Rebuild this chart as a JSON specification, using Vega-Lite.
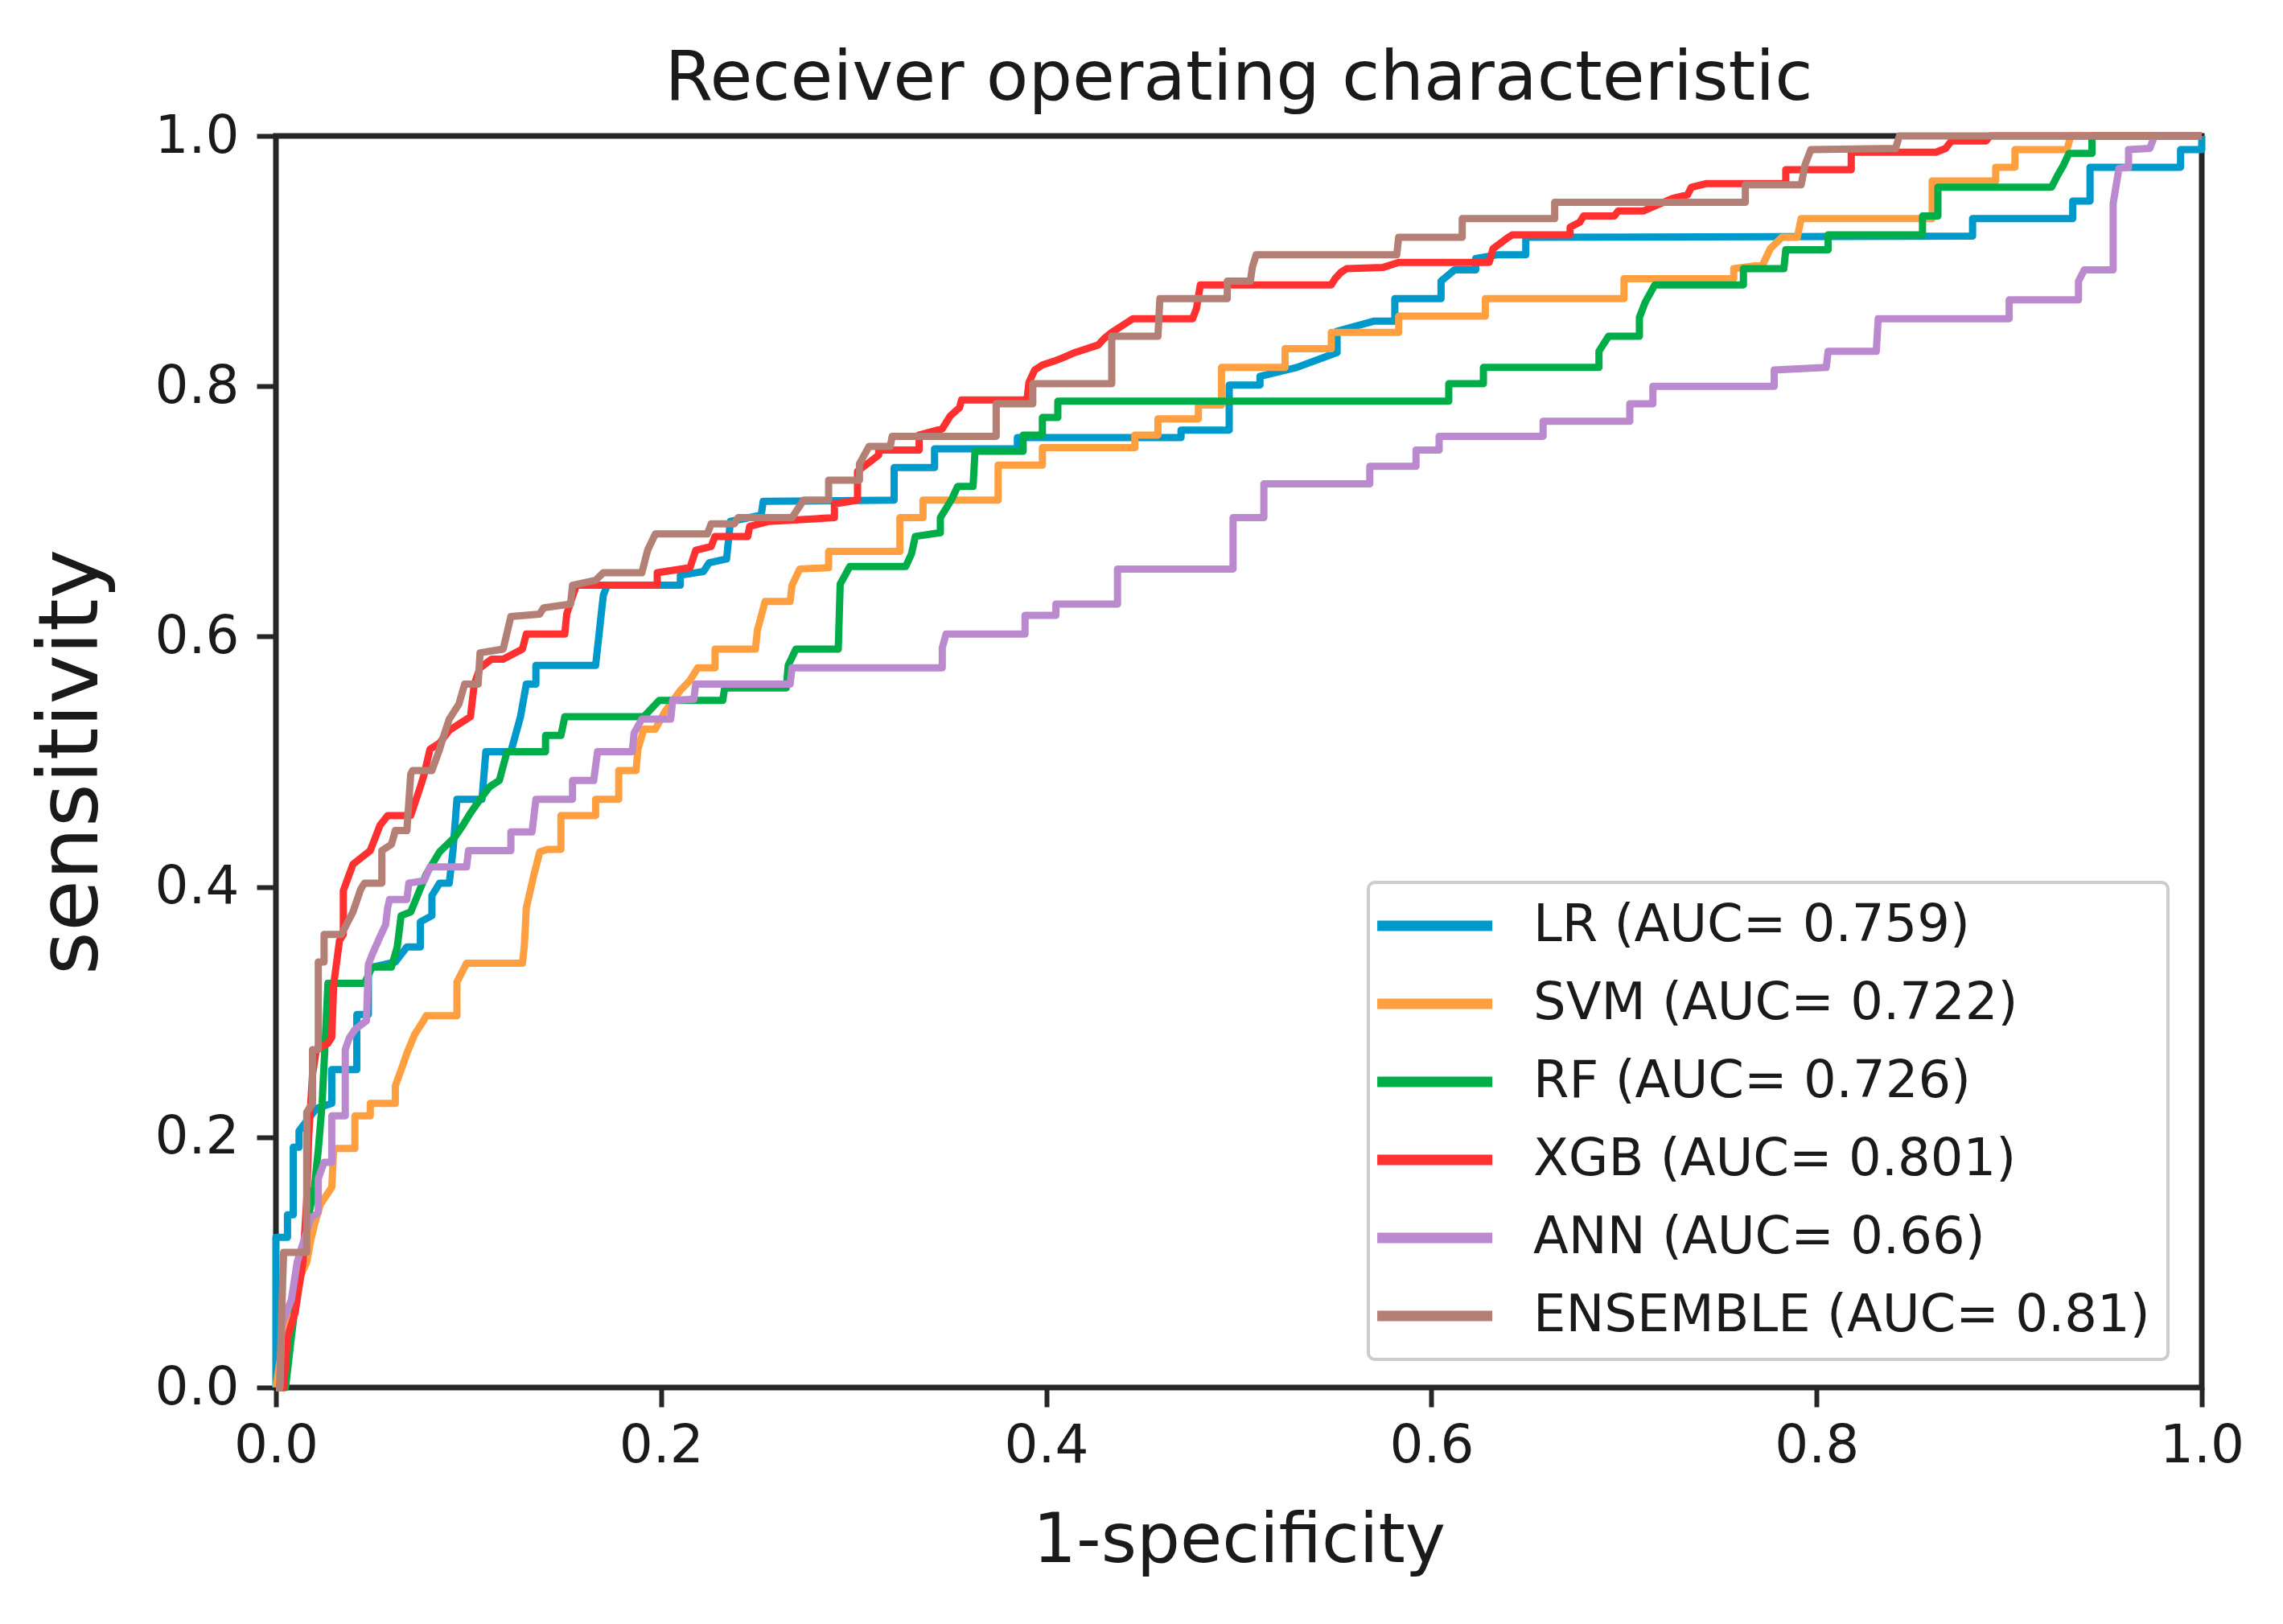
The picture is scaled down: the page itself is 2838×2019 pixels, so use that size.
{
  "$schema": "https://vega.github.io/schema/vega-lite/v6.json",
  "width": 2394,
  "height": 1556,
  "autosize": {"type": "none"},
  "padding": {"left": 343, "top": 169, "right": 101, "bottom": 294},
  "background": "white",
  "title": {"text": "Receiver operating characteristic", "fontSize": 86, "fontWeight": "normal", "font": "DejaVu Sans", "color": "#1a1a1a", "offset": -6},
  "datasets": {
    "labels": [
      {"k": "LR", "m": "LR (AUC= 0.759)"},
      {"k": "SVM", "m": "SVM (AUC= 0.722)"},
      {"k": "RF", "m": "RF (AUC= 0.726)"},
      {"k": "XGB", "m": "XGB (AUC= 0.801)"},
      {"k": "ANN", "m": "ANN (AUC= 0.66)"},
      {"k": "ENSEMBLE", "m": "ENSEMBLE (AUC= 0.81)"}
    ]
  },
  "data": {"values": [
{"k":"LR","i":0,"x":0,"y":0},{"k":"LR","i":1,"x":0,"y":0.12},{"k":"LR","i":2,"x":0.006,"y":0.12},{"k":"LR","i":3,"x":0.006,"y":0.138},{"k":"LR","i":4,"x":0.009,"y":0.138},{"k":"LR","i":5,"x":0.009,"y":0.192},{"k":"LR","i":6,"x":0.012,"y":0.192},{"k":"LR","i":7,"x":0.012,"y":0.205},{"k":"LR","i":8,"x":0.021,"y":0.223},{"k":"LR","i":9,"x":0.029,"y":0.227},{"k":"LR","i":10,"x":0.029,"y":0.254},{"k":"LR","i":11,"x":0.042,"y":0.254},{"k":"LR","i":12,"x":0.042,"y":0.298},{"k":"LR","i":13,"x":0.048,"y":0.298},{"k":"LR","i":14,"x":0.048,"y":0.335},{"k":"LR","i":15,"x":0.062,"y":0.34},{"k":"LR","i":16,"x":0.068,"y":0.352},{"k":"LR","i":17,"x":0.075,"y":0.352},{"k":"LR","i":18,"x":0.075,"y":0.372},{"k":"LR","i":19,"x":0.081,"y":0.377},{"k":"LR","i":20,"x":0.081,"y":0.393},{"k":"LR","i":21,"x":0.085,"y":0.403},{"k":"LR","i":22,"x":0.09,"y":0.403},{"k":"LR","i":23,"x":0.092,"y":0.43},{"k":"LR","i":24,"x":0.094,"y":0.47},{"k":"LR","i":25,"x":0.107,"y":0.47},{"k":"LR","i":26,"x":0.109,"y":0.508},{"k":"LR","i":27,"x":0.122,"y":0.508},{"k":"LR","i":28,"x":0.127,"y":0.536},{"k":"LR","i":29,"x":0.13,"y":0.562},{"k":"LR","i":30,"x":0.135,"y":0.562},{"k":"LR","i":31,"x":0.135,"y":0.577},{"k":"LR","i":32,"x":0.166,"y":0.577},{"k":"LR","i":33,"x":0.17,"y":0.633},{"k":"LR","i":34,"x":0.172,"y":0.641},{"k":"LR","i":35,"x":0.21,"y":0.641},{"k":"LR","i":36,"x":0.21,"y":0.649},{"k":"LR","i":37,"x":0.222,"y":0.652},{"k":"LR","i":38,"x":0.225,"y":0.659},{"k":"LR","i":39,"x":0.234,"y":0.662},{"k":"LR","i":40,"x":0.236,"y":0.692},{"k":"LR","i":41,"x":0.252,"y":0.697},{"k":"LR","i":42,"x":0.253,"y":0.708},{"k":"LR","i":43,"x":0.321,"y":0.709},{"k":"LR","i":44,"x":0.321,"y":0.735},{"k":"LR","i":45,"x":0.342,"y":0.735},{"k":"LR","i":46,"x":0.342,"y":0.75},{"k":"LR","i":47,"x":0.385,"y":0.75},{"k":"LR","i":48,"x":0.385,"y":0.759},{"k":"LR","i":49,"x":0.47,"y":0.759},{"k":"LR","i":50,"x":0.47,"y":0.765},{"k":"LR","i":51,"x":0.495,"y":0.765},{"k":"LR","i":52,"x":0.495,"y":0.801},{"k":"LR","i":53,"x":0.511,"y":0.801},{"k":"LR","i":54,"x":0.511,"y":0.808},{"k":"LR","i":55,"x":0.53,"y":0.815},{"k":"LR","i":56,"x":0.551,"y":0.827},{"k":"LR","i":57,"x":0.551,"y":0.844},{"k":"LR","i":58,"x":0.57,"y":0.852},{"k":"LR","i":59,"x":0.581,"y":0.852},{"k":"LR","i":60,"x":0.581,"y":0.87},{"k":"LR","i":61,"x":0.605,"y":0.87},{"k":"LR","i":62,"x":0.605,"y":0.884},{"k":"LR","i":63,"x":0.612,"y":0.893},{"k":"LR","i":64,"x":0.623,"y":0.893},{"k":"LR","i":65,"x":0.623,"y":0.902},{"k":"LR","i":66,"x":0.634,"y":0.905},{"k":"LR","i":67,"x":0.649,"y":0.905},{"k":"LR","i":68,"x":0.649,"y":0.919},{"k":"LR","i":69,"x":0.881,"y":0.92},{"k":"LR","i":70,"x":0.881,"y":0.934},{"k":"LR","i":71,"x":0.933,"y":0.934},{"k":"LR","i":72,"x":0.933,"y":0.948},{"k":"LR","i":73,"x":0.942,"y":0.948},{"k":"LR","i":74,"x":0.942,"y":0.975},{"k":"LR","i":75,"x":0.989,"y":0.975},{"k":"LR","i":76,"x":0.989,"y":0.989},{"k":"LR","i":77,"x":1,"y":0.989},{"k":"LR","i":78,"x":1,"y":1},
{"k":"SVM","i":0,"x":0,"y":0},{"k":"SVM","i":1,"x":0.004,"y":0.04},{"k":"SVM","i":2,"x":0.01,"y":0.08},{"k":"SVM","i":3,"x":0.016,"y":0.1},{"k":"SVM","i":4,"x":0.018,"y":0.117},{"k":"SVM","i":5,"x":0.02,"y":0.13},{"k":"SVM","i":6,"x":0.023,"y":0.146},{"k":"SVM","i":7,"x":0.029,"y":0.16},{"k":"SVM","i":8,"x":0.03,"y":0.191},{"k":"SVM","i":9,"x":0.041,"y":0.191},{"k":"SVM","i":10,"x":0.041,"y":0.217},{"k":"SVM","i":11,"x":0.049,"y":0.217},{"k":"SVM","i":12,"x":0.049,"y":0.227},{"k":"SVM","i":13,"x":0.062,"y":0.227},{"k":"SVM","i":14,"x":0.062,"y":0.241},{"k":"SVM","i":15,"x":0.066,"y":0.258},{"k":"SVM","i":16,"x":0.068,"y":0.267},{"k":"SVM","i":17,"x":0.072,"y":0.282},{"k":"SVM","i":18,"x":0.077,"y":0.294},{"k":"SVM","i":19,"x":0.078,"y":0.297},{"k":"SVM","i":20,"x":0.094,"y":0.297},{"k":"SVM","i":21,"x":0.094,"y":0.324},{"k":"SVM","i":22,"x":0.099,"y":0.339},{"k":"SVM","i":23,"x":0.128,"y":0.339},{"k":"SVM","i":24,"x":0.129,"y":0.353},{"k":"SVM","i":25,"x":0.13,"y":0.383},{"k":"SVM","i":26,"x":0.134,"y":0.41},{"k":"SVM","i":27,"x":0.137,"y":0.428},{"k":"SVM","i":28,"x":0.141,"y":0.43},{"k":"SVM","i":29,"x":0.148,"y":0.43},{"k":"SVM","i":30,"x":0.148,"y":0.457},{"k":"SVM","i":31,"x":0.166,"y":0.457},{"k":"SVM","i":32,"x":0.166,"y":0.47},{"k":"SVM","i":33,"x":0.178,"y":0.47},{"k":"SVM","i":34,"x":0.178,"y":0.493},{"k":"SVM","i":35,"x":0.187,"y":0.493},{"k":"SVM","i":36,"x":0.188,"y":0.51},{"k":"SVM","i":37,"x":0.191,"y":0.526},{"k":"SVM","i":38,"x":0.197,"y":0.526},{"k":"SVM","i":39,"x":0.202,"y":0.54},{"k":"SVM","i":40,"x":0.21,"y":0.557},{"k":"SVM","i":41,"x":0.215,"y":0.565},{"k":"SVM","i":42,"x":0.219,"y":0.575},{"k":"SVM","i":43,"x":0.228,"y":0.575},{"k":"SVM","i":44,"x":0.228,"y":0.59},{"k":"SVM","i":45,"x":0.249,"y":0.59},{"k":"SVM","i":46,"x":0.25,"y":0.605},{"k":"SVM","i":47,"x":0.254,"y":0.628},{"k":"SVM","i":48,"x":0.267,"y":0.628},{"k":"SVM","i":49,"x":0.268,"y":0.641},{"k":"SVM","i":50,"x":0.272,"y":0.654},{"k":"SVM","i":51,"x":0.287,"y":0.655},{"k":"SVM","i":52,"x":0.287,"y":0.668},{"k":"SVM","i":53,"x":0.324,"y":0.668},{"k":"SVM","i":54,"x":0.324,"y":0.695},{"k":"SVM","i":55,"x":0.336,"y":0.695},{"k":"SVM","i":56,"x":0.336,"y":0.709},{"k":"SVM","i":57,"x":0.375,"y":0.709},{"k":"SVM","i":58,"x":0.375,"y":0.737},{"k":"SVM","i":59,"x":0.398,"y":0.737},{"k":"SVM","i":60,"x":0.398,"y":0.751},{"k":"SVM","i":61,"x":0.446,"y":0.751},{"k":"SVM","i":62,"x":0.446,"y":0.761},{"k":"SVM","i":63,"x":0.458,"y":0.761},{"k":"SVM","i":64,"x":0.458,"y":0.774},{"k":"SVM","i":65,"x":0.479,"y":0.774},{"k":"SVM","i":66,"x":0.479,"y":0.785},{"k":"SVM","i":67,"x":0.491,"y":0.785},{"k":"SVM","i":68,"x":0.491,"y":0.815},{"k":"SVM","i":69,"x":0.524,"y":0.815},{"k":"SVM","i":70,"x":0.524,"y":0.83},{"k":"SVM","i":71,"x":0.548,"y":0.83},{"k":"SVM","i":72,"x":0.548,"y":0.843},{"k":"SVM","i":73,"x":0.583,"y":0.843},{"k":"SVM","i":74,"x":0.583,"y":0.856},{"k":"SVM","i":75,"x":0.628,"y":0.856},{"k":"SVM","i":76,"x":0.628,"y":0.87},{"k":"SVM","i":77,"x":0.7,"y":0.87},{"k":"SVM","i":78,"x":0.7,"y":0.886},{"k":"SVM","i":79,"x":0.757,"y":0.886},{"k":"SVM","i":80,"x":0.757,"y":0.894},{"k":"SVM","i":81,"x":0.772,"y":0.897},{"k":"SVM","i":82,"x":0.776,"y":0.91},{"k":"SVM","i":83,"x":0.782,"y":0.919},{"k":"SVM","i":84,"x":0.79,"y":0.919},{"k":"SVM","i":85,"x":0.792,"y":0.934},{"k":"SVM","i":86,"x":0.86,"y":0.934},{"k":"SVM","i":87,"x":0.86,"y":0.964},{"k":"SVM","i":88,"x":0.893,"y":0.964},{"k":"SVM","i":89,"x":0.893,"y":0.975},{"k":"SVM","i":90,"x":0.903,"y":0.975},{"k":"SVM","i":91,"x":0.903,"y":0.989},{"k":"SVM","i":92,"x":0.93,"y":0.989},{"k":"SVM","i":93,"x":0.932,"y":1},{"k":"SVM","i":94,"x":1,"y":1},
{"k":"RF","i":0,"x":0,"y":0},{"k":"RF","i":1,"x":0.005,"y":0},{"k":"RF","i":2,"x":0.008,"y":0.04},{"k":"RF","i":3,"x":0.012,"y":0.09},{"k":"RF","i":4,"x":0.016,"y":0.13},{"k":"RF","i":5,"x":0.02,"y":0.16},{"k":"RF","i":6,"x":0.022,"y":0.19},{"k":"RF","i":7,"x":0.024,"y":0.227},{"k":"RF","i":8,"x":0.026,"y":0.29},{"k":"RF","i":9,"x":0.027,"y":0.323},{"k":"RF","i":10,"x":0.046,"y":0.323},{"k":"RF","i":11,"x":0.05,"y":0.336},{"k":"RF","i":12,"x":0.06,"y":0.336},{"k":"RF","i":13,"x":0.063,"y":0.352},{"k":"RF","i":14,"x":0.065,"y":0.377},{"k":"RF","i":15,"x":0.07,"y":0.38},{"k":"RF","i":16,"x":0.074,"y":0.395},{"k":"RF","i":17,"x":0.078,"y":0.41},{"k":"RF","i":18,"x":0.085,"y":0.428},{"k":"RF","i":19,"x":0.093,"y":0.44},{"k":"RF","i":20,"x":0.097,"y":0.449},{"k":"RF","i":21,"x":0.101,"y":0.459},{"k":"RF","i":22,"x":0.106,"y":0.47},{"k":"RF","i":23,"x":0.111,"y":0.48},{"k":"RF","i":24,"x":0.116,"y":0.485},{"k":"RF","i":25,"x":0.12,"y":0.508},{"k":"RF","i":26,"x":0.14,"y":0.508},{"k":"RF","i":27,"x":0.14,"y":0.521},{"k":"RF","i":28,"x":0.148,"y":0.521},{"k":"RF","i":29,"x":0.15,"y":0.536},{"k":"RF","i":30,"x":0.191,"y":0.536},{"k":"RF","i":31,"x":0.199,"y":0.549},{"k":"RF","i":32,"x":0.232,"y":0.549},{"k":"RF","i":33,"x":0.233,"y":0.559},{"k":"RF","i":34,"x":0.265,"y":0.559},{"k":"RF","i":35,"x":0.266,"y":0.577},{"k":"RF","i":36,"x":0.27,"y":0.59},{"k":"RF","i":37,"x":0.292,"y":0.59},{"k":"RF","i":38,"x":0.293,"y":0.642},{"k":"RF","i":39,"x":0.298,"y":0.656},{"k":"RF","i":40,"x":0.327,"y":0.656},{"k":"RF","i":41,"x":0.33,"y":0.666},{"k":"RF","i":42,"x":0.332,"y":0.68},{"k":"RF","i":43,"x":0.345,"y":0.683},{"k":"RF","i":44,"x":0.345,"y":0.695},{"k":"RF","i":45,"x":0.351,"y":0.71},{"k":"RF","i":46,"x":0.354,"y":0.72},{"k":"RF","i":47,"x":0.362,"y":0.72},{"k":"RF","i":48,"x":0.363,"y":0.748},{"k":"RF","i":49,"x":0.388,"y":0.748},{"k":"RF","i":50,"x":0.388,"y":0.761},{"k":"RF","i":51,"x":0.398,"y":0.761},{"k":"RF","i":52,"x":0.398,"y":0.775},{"k":"RF","i":53,"x":0.406,"y":0.775},{"k":"RF","i":54,"x":0.406,"y":0.788},{"k":"RF","i":55,"x":0.609,"y":0.788},{"k":"RF","i":56,"x":0.609,"y":0.802},{"k":"RF","i":57,"x":0.627,"y":0.802},{"k":"RF","i":58,"x":0.627,"y":0.815},{"k":"RF","i":59,"x":0.687,"y":0.815},{"k":"RF","i":60,"x":0.687,"y":0.828},{"k":"RF","i":61,"x":0.692,"y":0.84},{"k":"RF","i":62,"x":0.708,"y":0.84},{"k":"RF","i":63,"x":0.708,"y":0.855},{"k":"RF","i":64,"x":0.711,"y":0.867},{"k":"RF","i":65,"x":0.716,"y":0.881},{"k":"RF","i":66,"x":0.762,"y":0.881},{"k":"RF","i":67,"x":0.762,"y":0.894},{"k":"RF","i":68,"x":0.783,"y":0.894},{"k":"RF","i":69,"x":0.784,"y":0.909},{"k":"RF","i":70,"x":0.806,"y":0.909},{"k":"RF","i":71,"x":0.806,"y":0.921},{"k":"RF","i":72,"x":0.855,"y":0.921},{"k":"RF","i":73,"x":0.855,"y":0.936},{"k":"RF","i":74,"x":0.863,"y":0.936},{"k":"RF","i":75,"x":0.863,"y":0.959},{"k":"RF","i":76,"x":0.922,"y":0.959},{"k":"RF","i":77,"x":0.925,"y":0.968},{"k":"RF","i":78,"x":0.928,"y":0.976},{"k":"RF","i":79,"x":0.931,"y":0.986},{"k":"RF","i":80,"x":0.943,"y":0.986},{"k":"RF","i":81,"x":0.943,"y":1},{"k":"RF","i":82,"x":1,"y":1},
{"k":"XGB","i":0,"x":0,"y":0},{"k":"XGB","i":1,"x":0.004,"y":0},{"k":"XGB","i":2,"x":0.006,"y":0.04},{"k":"XGB","i":3,"x":0.01,"y":0.06},{"k":"XGB","i":4,"x":0.014,"y":0.1},{"k":"XGB","i":5,"x":0.016,"y":0.15},{"k":"XGB","i":6,"x":0.017,"y":0.2},{"k":"XGB","i":7,"x":0.019,"y":0.25},{"k":"XGB","i":8,"x":0.021,"y":0.27},{"k":"XGB","i":9,"x":0.027,"y":0.275},{"k":"XGB","i":10,"x":0.029,"y":0.28},{"k":"XGB","i":11,"x":0.03,"y":0.322},{"k":"XGB","i":12,"x":0.033,"y":0.357},{"k":"XGB","i":13,"x":0.035,"y":0.362},{"k":"XGB","i":14,"x":0.035,"y":0.397},{"k":"XGB","i":15,"x":0.04,"y":0.418},{"k":"XGB","i":16,"x":0.049,"y":0.429},{"k":"XGB","i":17,"x":0.054,"y":0.449},{"k":"XGB","i":18,"x":0.058,"y":0.457},{"k":"XGB","i":19,"x":0.07,"y":0.457},{"k":"XGB","i":20,"x":0.075,"y":0.48},{"k":"XGB","i":21,"x":0.077,"y":0.49},{"k":"XGB","i":22,"x":0.08,"y":0.51},{"k":"XGB","i":23,"x":0.085,"y":0.515},{"k":"XGB","i":24,"x":0.09,"y":0.525},{"k":"XGB","i":25,"x":0.101,"y":0.536},{"k":"XGB","i":26,"x":0.103,"y":0.562},{"k":"XGB","i":27,"x":0.106,"y":0.575},{"k":"XGB","i":28,"x":0.112,"y":0.582},{"k":"XGB","i":29,"x":0.118,"y":0.582},{"k":"XGB","i":30,"x":0.128,"y":0.59},{"k":"XGB","i":31,"x":0.13,"y":0.602},{"k":"XGB","i":32,"x":0.15,"y":0.602},{"k":"XGB","i":33,"x":0.151,"y":0.618},{"k":"XGB","i":34,"x":0.156,"y":0.641},{"k":"XGB","i":35,"x":0.198,"y":0.641},{"k":"XGB","i":36,"x":0.198,"y":0.651},{"k":"XGB","i":37,"x":0.215,"y":0.655},{"k":"XGB","i":38,"x":0.218,"y":0.669},{"k":"XGB","i":39,"x":0.226,"y":0.672},{"k":"XGB","i":40,"x":0.228,"y":0.68},{"k":"XGB","i":41,"x":0.245,"y":0.68},{"k":"XGB","i":42,"x":0.246,"y":0.688},{"k":"XGB","i":43,"x":0.256,"y":0.692},{"k":"XGB","i":44,"x":0.29,"y":0.695},{"k":"XGB","i":45,"x":0.29,"y":0.706},{"k":"XGB","i":46,"x":0.302,"y":0.709},{"k":"XGB","i":47,"x":0.302,"y":0.732},{"k":"XGB","i":48,"x":0.313,"y":0.745},{"k":"XGB","i":49,"x":0.313,"y":0.749},{"k":"XGB","i":50,"x":0.334,"y":0.749},{"k":"XGB","i":51,"x":0.334,"y":0.761},{"k":"XGB","i":52,"x":0.346,"y":0.766},{"k":"XGB","i":53,"x":0.35,"y":0.776},{"k":"XGB","i":54,"x":0.355,"y":0.783},{"k":"XGB","i":55,"x":0.356,"y":0.789},{"k":"XGB","i":56,"x":0.39,"y":0.789},{"k":"XGB","i":57,"x":0.391,"y":0.803},{"k":"XGB","i":58,"x":0.394,"y":0.813},{"k":"XGB","i":59,"x":0.398,"y":0.817},{"k":"XGB","i":60,"x":0.404,"y":0.82},{"k":"XGB","i":61,"x":0.409,"y":0.823},{"k":"XGB","i":62,"x":0.415,"y":0.827},{"k":"XGB","i":63,"x":0.427,"y":0.833},{"k":"XGB","i":64,"x":0.43,"y":0.838},{"k":"XGB","i":65,"x":0.434,"y":0.843},{"k":"XGB","i":66,"x":0.44,"y":0.849},{"k":"XGB","i":67,"x":0.445,"y":0.854},{"k":"XGB","i":68,"x":0.476,"y":0.854},{"k":"XGB","i":69,"x":0.478,"y":0.862},{"k":"XGB","i":70,"x":0.48,"y":0.881},{"k":"XGB","i":71,"x":0.548,"y":0.881},{"k":"XGB","i":72,"x":0.55,"y":0.886},{"k":"XGB","i":73,"x":0.553,"y":0.891},{"k":"XGB","i":74,"x":0.556,"y":0.894},{"k":"XGB","i":75,"x":0.575,"y":0.895},{"k":"XGB","i":76,"x":0.583,"y":0.899},{"k":"XGB","i":77,"x":0.63,"y":0.899},{"k":"XGB","i":78,"x":0.632,"y":0.91},{"k":"XGB","i":79,"x":0.639,"y":0.918},{"k":"XGB","i":80,"x":0.642,"y":0.921},{"k":"XGB","i":81,"x":0.672,"y":0.921},{"k":"XGB","i":82,"x":0.672,"y":0.927},{"k":"XGB","i":83,"x":0.677,"y":0.931},{"k":"XGB","i":84,"x":0.679,"y":0.936},{"k":"XGB","i":85,"x":0.695,"y":0.936},{"k":"XGB","i":86,"x":0.697,"y":0.94},{"k":"XGB","i":87,"x":0.71,"y":0.94},{"k":"XGB","i":88,"x":0.725,"y":0.95},{"k":"XGB","i":89,"x":0.733,"y":0.953},{"k":"XGB","i":90,"x":0.735,"y":0.959},{"k":"XGB","i":91,"x":0.743,"y":0.962},{"k":"XGB","i":92,"x":0.784,"y":0.962},{"k":"XGB","i":93,"x":0.784,"y":0.973},{"k":"XGB","i":94,"x":0.818,"y":0.973},{"k":"XGB","i":95,"x":0.818,"y":0.987},{"k":"XGB","i":96,"x":0.862,"y":0.987},{"k":"XGB","i":97,"x":0.867,"y":0.99},{"k":"XGB","i":98,"x":0.87,"y":0.996},{"k":"XGB","i":99,"x":0.888,"y":0.996},{"k":"XGB","i":100,"x":0.89,"y":1},{"k":"XGB","i":101,"x":1,"y":1},
{"k":"ANN","i":0,"x":0,"y":0},{"k":"ANN","i":1,"x":0.002,"y":0},{"k":"ANN","i":2,"x":0.003,"y":0.05},{"k":"ANN","i":3,"x":0.008,"y":0.07},{"k":"ANN","i":4,"x":0.011,"y":0.1},{"k":"ANN","i":5,"x":0.015,"y":0.12},{"k":"ANN","i":6,"x":0.018,"y":0.135},{"k":"ANN","i":7,"x":0.022,"y":0.14},{"k":"ANN","i":8,"x":0.022,"y":0.167},{"k":"ANN","i":9,"x":0.025,"y":0.18},{"k":"ANN","i":10,"x":0.029,"y":0.18},{"k":"ANN","i":11,"x":0.029,"y":0.217},{"k":"ANN","i":12,"x":0.036,"y":0.217},{"k":"ANN","i":13,"x":0.036,"y":0.27},{"k":"ANN","i":14,"x":0.038,"y":0.279},{"k":"ANN","i":15,"x":0.041,"y":0.286},{"k":"ANN","i":16,"x":0.047,"y":0.293},{"k":"ANN","i":17,"x":0.048,"y":0.338},{"k":"ANN","i":18,"x":0.05,"y":0.346},{"k":"ANN","i":19,"x":0.054,"y":0.36},{"k":"ANN","i":20,"x":0.057,"y":0.37},{"k":"ANN","i":21,"x":0.058,"y":0.383},{"k":"ANN","i":22,"x":0.059,"y":0.39},{"k":"ANN","i":23,"x":0.068,"y":0.39},{"k":"ANN","i":24,"x":0.069,"y":0.403},{"k":"ANN","i":25,"x":0.077,"y":0.405},{"k":"ANN","i":26,"x":0.08,"y":0.416},{"k":"ANN","i":27,"x":0.099,"y":0.416},{"k":"ANN","i":28,"x":0.1,"y":0.429},{"k":"ANN","i":29,"x":0.122,"y":0.429},{"k":"ANN","i":30,"x":0.122,"y":0.444},{"k":"ANN","i":31,"x":0.133,"y":0.444},{"k":"ANN","i":32,"x":0.135,"y":0.47},{"k":"ANN","i":33,"x":0.154,"y":0.47},{"k":"ANN","i":34,"x":0.154,"y":0.485},{"k":"ANN","i":35,"x":0.165,"y":0.485},{"k":"ANN","i":36,"x":0.167,"y":0.508},{"k":"ANN","i":37,"x":0.185,"y":0.508},{"k":"ANN","i":38,"x":0.186,"y":0.523},{"k":"ANN","i":39,"x":0.19,"y":0.534},{"k":"ANN","i":40,"x":0.205,"y":0.534},{"k":"ANN","i":41,"x":0.206,"y":0.549},{"k":"ANN","i":42,"x":0.217,"y":0.55},{"k":"ANN","i":43,"x":0.218,"y":0.562},{"k":"ANN","i":44,"x":0.267,"y":0.562},{"k":"ANN","i":45,"x":0.268,"y":0.575},{"k":"ANN","i":46,"x":0.346,"y":0.575},{"k":"ANN","i":47,"x":0.346,"y":0.591},{"k":"ANN","i":48,"x":0.348,"y":0.602},{"k":"ANN","i":49,"x":0.389,"y":0.602},{"k":"ANN","i":50,"x":0.389,"y":0.617},{"k":"ANN","i":51,"x":0.405,"y":0.617},{"k":"ANN","i":52,"x":0.405,"y":0.626},{"k":"ANN","i":53,"x":0.437,"y":0.626},{"k":"ANN","i":54,"x":0.437,"y":0.654},{"k":"ANN","i":55,"x":0.497,"y":0.654},{"k":"ANN","i":56,"x":0.497,"y":0.695},{"k":"ANN","i":57,"x":0.513,"y":0.695},{"k":"ANN","i":58,"x":0.513,"y":0.722},{"k":"ANN","i":59,"x":0.568,"y":0.722},{"k":"ANN","i":60,"x":0.568,"y":0.736},{"k":"ANN","i":61,"x":0.592,"y":0.736},{"k":"ANN","i":62,"x":0.592,"y":0.749},{"k":"ANN","i":63,"x":0.604,"y":0.749},{"k":"ANN","i":64,"x":0.604,"y":0.76},{"k":"ANN","i":65,"x":0.658,"y":0.76},{"k":"ANN","i":66,"x":0.658,"y":0.772},{"k":"ANN","i":67,"x":0.703,"y":0.772},{"k":"ANN","i":68,"x":0.703,"y":0.786},{"k":"ANN","i":69,"x":0.715,"y":0.786},{"k":"ANN","i":70,"x":0.715,"y":0.8},{"k":"ANN","i":71,"x":0.778,"y":0.8},{"k":"ANN","i":72,"x":0.778,"y":0.813},{"k":"ANN","i":73,"x":0.805,"y":0.815},{"k":"ANN","i":74,"x":0.806,"y":0.828},{"k":"ANN","i":75,"x":0.831,"y":0.828},{"k":"ANN","i":76,"x":0.832,"y":0.854},{"k":"ANN","i":77,"x":0.9,"y":0.854},{"k":"ANN","i":78,"x":0.9,"y":0.869},{"k":"ANN","i":79,"x":0.936,"y":0.869},{"k":"ANN","i":80,"x":0.936,"y":0.884},{"k":"ANN","i":81,"x":0.939,"y":0.893},{"k":"ANN","i":82,"x":0.954,"y":0.893},{"k":"ANN","i":83,"x":0.954,"y":0.946},{"k":"ANN","i":84,"x":0.957,"y":0.974},{"k":"ANN","i":85,"x":0.962,"y":0.975},{"k":"ANN","i":86,"x":0.962,"y":0.989},{"k":"ANN","i":87,"x":0.973,"y":0.99},{"k":"ANN","i":88,"x":0.975,"y":0.998},{"k":"ANN","i":89,"x":0.976,"y":1},{"k":"ANN","i":90,"x":1,"y":1},
{"k":"ENSEMBLE","i":0,"x":0,"y":0},{"k":"ENSEMBLE","i":1,"x":0.002,"y":0},{"k":"ENSEMBLE","i":2,"x":0.003,"y":0.06},{"k":"ENSEMBLE","i":3,"x":0.004,"y":0.108},{"k":"ENSEMBLE","i":4,"x":0.016,"y":0.108},{"k":"ENSEMBLE","i":5,"x":0.016,"y":0.22},{"k":"ENSEMBLE","i":6,"x":0.019,"y":0.227},{"k":"ENSEMBLE","i":7,"x":0.019,"y":0.27},{"k":"ENSEMBLE","i":8,"x":0.022,"y":0.27},{"k":"ENSEMBLE","i":9,"x":0.022,"y":0.34},{"k":"ENSEMBLE","i":10,"x":0.025,"y":0.34},{"k":"ENSEMBLE","i":11,"x":0.025,"y":0.362},{"k":"ENSEMBLE","i":12,"x":0.034,"y":0.362},{"k":"ENSEMBLE","i":13,"x":0.04,"y":0.38},{"k":"ENSEMBLE","i":14,"x":0.044,"y":0.398},{"k":"ENSEMBLE","i":15,"x":0.046,"y":0.403},{"k":"ENSEMBLE","i":16,"x":0.055,"y":0.403},{"k":"ENSEMBLE","i":17,"x":0.055,"y":0.429},{"k":"ENSEMBLE","i":18,"x":0.06,"y":0.434},{"k":"ENSEMBLE","i":19,"x":0.062,"y":0.445},{"k":"ENSEMBLE","i":20,"x":0.068,"y":0.445},{"k":"ENSEMBLE","i":21,"x":0.07,"y":0.49},{"k":"ENSEMBLE","i":22,"x":0.071,"y":0.493},{"k":"ENSEMBLE","i":23,"x":0.081,"y":0.493},{"k":"ENSEMBLE","i":24,"x":0.085,"y":0.51},{"k":"ENSEMBLE","i":25,"x":0.087,"y":0.52},{"k":"ENSEMBLE","i":26,"x":0.09,"y":0.534},{"k":"ENSEMBLE","i":27,"x":0.095,"y":0.546},{"k":"ENSEMBLE","i":28,"x":0.098,"y":0.562},{"k":"ENSEMBLE","i":29,"x":0.105,"y":0.562},{"k":"ENSEMBLE","i":30,"x":0.106,"y":0.587},{"k":"ENSEMBLE","i":31,"x":0.118,"y":0.59},{"k":"ENSEMBLE","i":32,"x":0.122,"y":0.616},{"k":"ENSEMBLE","i":33,"x":0.137,"y":0.618},{"k":"ENSEMBLE","i":34,"x":0.139,"y":0.623},{"k":"ENSEMBLE","i":35,"x":0.153,"y":0.626},{"k":"ENSEMBLE","i":36,"x":0.154,"y":0.641},{"k":"ENSEMBLE","i":37,"x":0.166,"y":0.645},{"k":"ENSEMBLE","i":38,"x":0.17,"y":0.651},{"k":"ENSEMBLE","i":39,"x":0.19,"y":0.651},{"k":"ENSEMBLE","i":40,"x":0.193,"y":0.669},{"k":"ENSEMBLE","i":41,"x":0.197,"y":0.682},{"k":"ENSEMBLE","i":42,"x":0.224,"y":0.682},{"k":"ENSEMBLE","i":43,"x":0.226,"y":0.69},{"k":"ENSEMBLE","i":44,"x":0.238,"y":0.69},{"k":"ENSEMBLE","i":45,"x":0.24,"y":0.695},{"k":"ENSEMBLE","i":46,"x":0.268,"y":0.695},{"k":"ENSEMBLE","i":47,"x":0.274,"y":0.709},{"k":"ENSEMBLE","i":48,"x":0.287,"y":0.709},{"k":"ENSEMBLE","i":49,"x":0.287,"y":0.725},{"k":"ENSEMBLE","i":50,"x":0.303,"y":0.725},{"k":"ENSEMBLE","i":51,"x":0.303,"y":0.738},{"k":"ENSEMBLE","i":52,"x":0.308,"y":0.752},{"k":"ENSEMBLE","i":53,"x":0.319,"y":0.752},{"k":"ENSEMBLE","i":54,"x":0.32,"y":0.76},{"k":"ENSEMBLE","i":55,"x":0.374,"y":0.76},{"k":"ENSEMBLE","i":56,"x":0.374,"y":0.786},{"k":"ENSEMBLE","i":57,"x":0.393,"y":0.786},{"k":"ENSEMBLE","i":58,"x":0.393,"y":0.802},{"k":"ENSEMBLE","i":59,"x":0.434,"y":0.802},{"k":"ENSEMBLE","i":60,"x":0.434,"y":0.84},{"k":"ENSEMBLE","i":61,"x":0.458,"y":0.84},{"k":"ENSEMBLE","i":62,"x":0.459,"y":0.87},{"k":"ENSEMBLE","i":63,"x":0.494,"y":0.87},{"k":"ENSEMBLE","i":64,"x":0.494,"y":0.884},{"k":"ENSEMBLE","i":65,"x":0.506,"y":0.884},{"k":"ENSEMBLE","i":66,"x":0.507,"y":0.895},{"k":"ENSEMBLE","i":67,"x":0.509,"y":0.905},{"k":"ENSEMBLE","i":68,"x":0.582,"y":0.905},{"k":"ENSEMBLE","i":69,"x":0.583,"y":0.919},{"k":"ENSEMBLE","i":70,"x":0.616,"y":0.919},{"k":"ENSEMBLE","i":71,"x":0.616,"y":0.934},{"k":"ENSEMBLE","i":72,"x":0.664,"y":0.934},{"k":"ENSEMBLE","i":73,"x":0.664,"y":0.947},{"k":"ENSEMBLE","i":74,"x":0.763,"y":0.947},{"k":"ENSEMBLE","i":75,"x":0.763,"y":0.961},{"k":"ENSEMBLE","i":76,"x":0.792,"y":0.961},{"k":"ENSEMBLE","i":77,"x":0.794,"y":0.977},{"k":"ENSEMBLE","i":78,"x":0.797,"y":0.989},{"k":"ENSEMBLE","i":79,"x":0.841,"y":0.99},{"k":"ENSEMBLE","i":80,"x":0.843,"y":1},{"k":"ENSEMBLE","i":81,"x":1,"y":1}
  ]},
  "transform": [
    {"lookup": "k", "from": {"data": {"name": "labels"}, "key": "k", "fields": ["m"]}}
  ],
  "mark": {"type": "line", "strokeWidth": 9, "strokeJoin": "round"},
  "encoding": {
    "x": {"field": "x", "type": "quantitative", "scale": {"domain": [0, 1], "nice": false, "zero": false},
          "axis": {"title": "1-specificity", "values": [0, 0.2, 0.4, 0.6, 0.8, 1], "format": ".1f", "labelPadding": 16, "titlePadding": 44, "titleFontSize": 85}},
    "y": {"field": "y", "type": "quantitative", "scale": {"domain": [0, 1], "nice": false, "zero": false},
          "axis": {"title": "sensitivity", "values": [0, 0.2, 0.4, 0.6, 0.8, 1], "format": ".1f", "labelPadding": 22, "titlePadding": 50, "titleFontSize": 104}},
    "color": {"field": "m", "type": "nominal",
              "scale": {"domain": ["LR (AUC= 0.759)", "SVM (AUC= 0.722)", "RF (AUC= 0.726)", "XGB (AUC= 0.801)", "ANN (AUC= 0.66)", "ENSEMBLE (AUC= 0.81)"],
                        "range": ["#0099cc", "#ff9f40", "#00ad48", "#ff3030", "#bb8ace", "#b47f74"]},
              "legend": {"title": null, "orient": "none", "legendX": 1358, "legendY": 928, "padding": 22,
                         "fillColor": "white", "strokeColor": "#cccccc", "cornerRadius": 8,
                         "labelFontSize": 64, "labelFont": "DejaVu Sans", "labelColor": "#1a1a1a", "labelLimit": 2000,
                         "symbolType": "M-3,0H7", "symbolSize": 818, "symbolStrokeWidth": 13,
                         "labelOffset": 119, "rowPadding": 33,
                         "encode": {"legend": {"update": {"strokeWidth": {"value": 4}}}}}},
    "order": {"field": "i", "type": "quantitative"}
  },
  "config": {
    "view": {"stroke": "#262626", "strokeWidth": 7},
    "font": "DejaVu Sans",
    "axis": {"grid": false, "domain": false, "ticks": true, "tickColor": "#262626", "tickWidth": 6, "tickSize": 24,
             "labelFontSize": 66, "labelColor": "#1a1a1a", "labelFont": "DejaVu Sans", "labelFlush": false, "labelOverlap": false,
             "titleFontWeight": "normal", "titleColor": "#1a1a1a", "titleFont": "DejaVu Sans"}
  }
}
